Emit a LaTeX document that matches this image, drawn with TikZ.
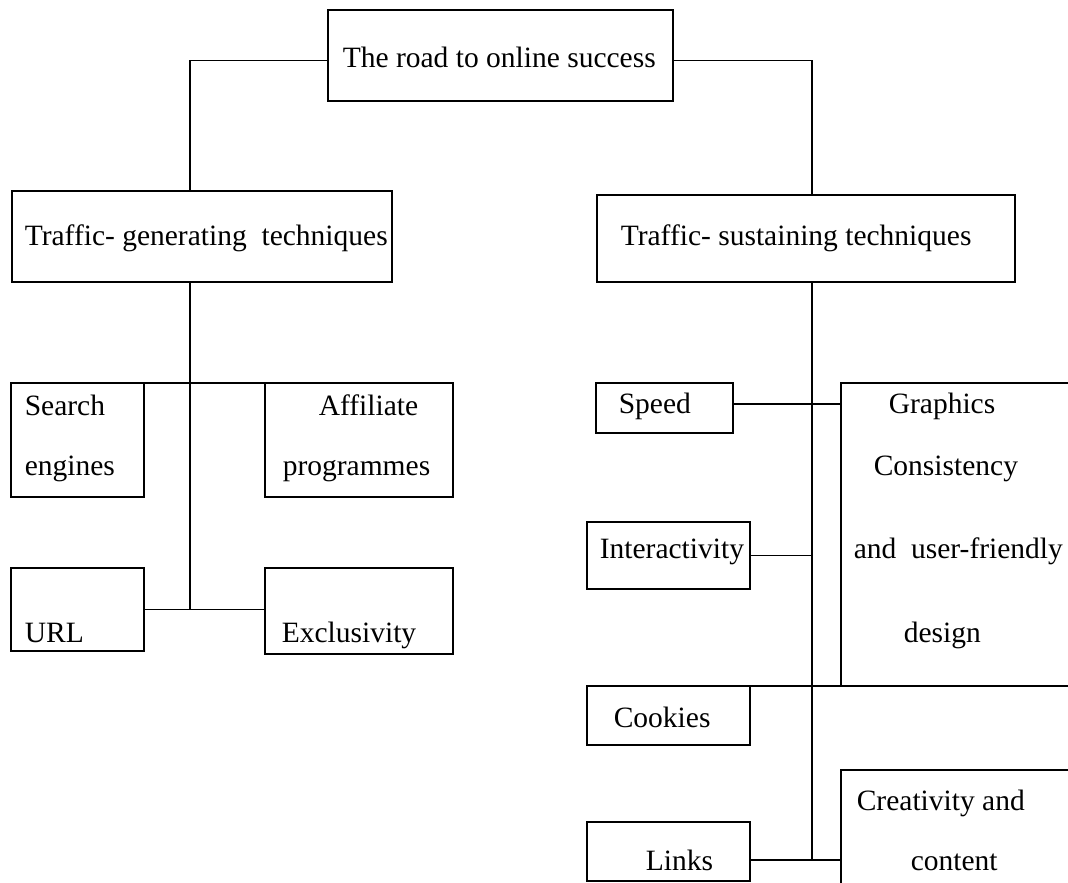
\documentclass[tikz,border=0pt]{standalone}
\usepackage{fontspec}
\setmainfont{Liberation Serif}
\usepackage{tikz}
\usetikzlibrary{positioning}

\begin{document}
\begin{tikzpicture}[x=1pt,y=-1pt,line width=1.6pt,
        box/.style={draw,anchor=north west,inner sep=0pt,outer sep=0pt},
        txt/.style={anchor=base west,inner sep=0pt,font=\fontsize{29.5}{36}\selectfont}]
            \useasboundingbox (0,0) rectangle (1068,883);

            \node[box,minimum width=345pt,minimum height=91pt] (road) at (328,10) {};
            \node[box,minimum width=380pt,minimum height=91pt] (gen) at (12,191) {};
            \node[box,minimum width=418pt,minimum height=87pt] (sus) at (597,195) {};

            \node[box,minimum width=133pt,minimum height=114pt] (srch) at (11,383) {};
            \node[box,minimum width=188pt,minimum height=114pt] (aff) at (265,383) {};
            \node[box,minimum width=133pt,minimum height=83pt] (url) at (11,568) {};
            \node[box,minimum width=188pt,minimum height=86pt] (excl) at (265,568) {};

            \node[box,minimum width=137pt,minimum height=50pt] (speed) at (596,383) {};
            \node[box,minimum width=163pt,minimum height=67pt] (inter) at (587,522) {};
            \node[box,minimum width=163pt,minimum height=59pt] (cook) at (587,686) {};
            \node[box,minimum width=163pt,minimum height=59pt] (links) at (587,822) {};
            \node[box,minimum width=240pt,minimum height=303pt] (graph) at (841,383) {};
            \node[box,minimum width=240pt,minimum height=130pt] (crea) at (841,770) {};

            \node[txt] (t1) at (342,67) {The road to online success};
            \node[txt] (t2) at (24,245) {Traffic- generating\ \ techniques};
            \node[txt] (t3) at (620,245) {Traffic- sustaining techniques};
            \node[txt] (t4) at (24,415) {Search};
            \node[txt] (t5) at (24,475) {engines};
            \node[txt] (t6) at (318,415) {Affiliate};
            \node[txt] (t7) at (282,475) {programmes};
            \node[txt] (t8) at (24,642) {URL};
            \node[txt] (t9) at (281,642) {Exclusivity};
            \node[txt] (t10) at (618,413) {Speed};
            \node[txt] (t11) at (888,413) {Graphics};
            \node[txt] (t12) at (873,475) {Consistency};
            \node[txt] (t13) at (599,558) {Interactivity};
            \node[txt] (t14) at (853,558) {and\ \ user-friendly};
            \node[txt] (t15) at (903,642) {design};
            \node[txt] (t16) at (613,727) {Cookies};
            \node[txt] (t17) at (856,810) {Creativity and};
            \node[txt] (t18) at (910,870) {content};
            \node[txt] (t19) at (645,870) {Links};

            \coordinate (gl) at ([xshift=-12pt]gen.south);
            \coordinate (sl) at ([xshift=6pt]sus.south);
            \coordinate (ln) at ([yshift=-8.5pt]links.east);

            \draw ([yshift=-5pt]road.west) -| ([xshift=-12pt]gen.north);
            \draw ([yshift=-5pt]road.east) -| ([xshift=6pt]sus.north);

            \draw (gl) -- (gl |- url.east);
            \draw (srch.north east) -- ([xshift=10pt]aff.north west);
            \draw (url.east) -- (url.east -| excl.west);

            \draw (sl) -- (sl |- ln);
            \draw ([yshift=4pt]speed.east) -- ([yshift=4pt]speed.east -| graph.west);
            \draw (inter.east) -- (inter.east -| sl);
            \draw (cook.north east) -- (graph.south west);
            \draw (ln) -- (ln -| crea.west);

        \end{tikzpicture}
\end{document}
